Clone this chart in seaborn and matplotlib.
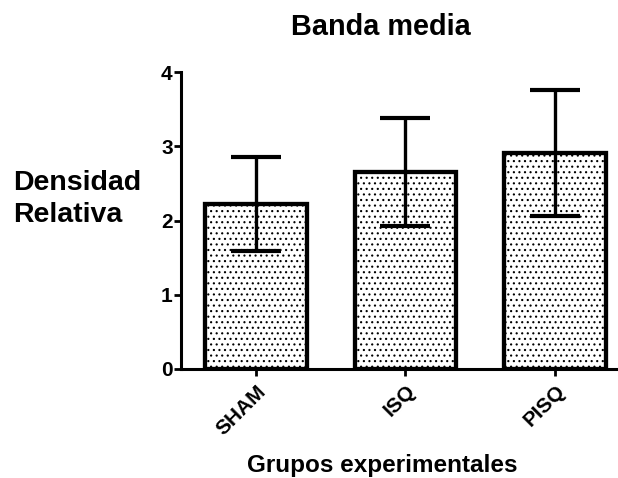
import matplotlib
matplotlib.use("Agg")
import matplotlib.pyplot as plt
import seaborn as sns
import pandas as pd

# Data
groups = ["SHAM", "ISQ", "PISQ"]
means = [2.22, 2.65, 2.91]
errors = [0.63, 0.73, 0.85]

title = "Banda media"
xlabel = "Grupos experimentales"
ylabel_lines = ["Densidad", "Relativa"]
yticks = [0, 1, 2, 3, 4]

sns.set_style("ticks")
plt.rcParams['font.family'] = ['Liberation Sans', 'DejaVu Sans']
plt.rcParams['hatch.linewidth'] = 0.8
plt.rcParams['hatch.color'] = 'black'
plt.rcParams['text.color'] = 'black'
plt.rcParams['axes.labelcolor'] = 'black'
plt.rcParams['xtick.color'] = 'black'
plt.rcParams['ytick.color'] = 'black'
plt.rcParams['xtick.labelcolor'] = 'black'
plt.rcParams['ytick.labelcolor'] = 'black'

df = pd.DataFrame({"group": groups, "value": means})

W, H, DPI = 618, 478, 100
fig = plt.figure(figsize=(W / DPI, H / DPI), dpi=DPI)
ax = fig.add_axes([181 / W, 1 - 369 / H, (W - 181) / W, (369 - 72) / H])

sns.barplot(data=df, x="group", y="value", order=groups, errorbar=None,
            color="white", edgecolor="black", linewidth=3.1, width=0.68,
            hatch="...", ax=ax, zorder=2)

ax.errorbar(range(len(groups)), means, yerr=errors, fmt="none",
            ecolor="black", elinewidth=2.4, capsize=18, capthick=3.0, zorder=3)

ax.set_xlim(-0.5, 2.42)
ax.set_ylim(0, 4)
ax.set_yticks(yticks)
ax.set_xlabel("")
ax.set_ylabel("")

for side in ["top", "right"]:
    ax.spines[side].set_visible(False)
for side in ["left", "bottom"]:
    ax.spines[side].set_linewidth(2.2)
    ax.spines[side].set_color("black")

ax.tick_params(axis="y", length=5, width=2.0, pad=1, labelsize=15,
               colors="black", labelcolor="black")
ax.tick_params(axis="x", length=5, width=2.0, pad=4, labelsize=15,
               colors="black", labelcolor="black")
for lab in ax.get_yticklabels():
    lab.set_fontweight("bold")
for lab in ax.get_xticklabels():
    lab.set_fontweight("bold")
    lab.set_rotation(45)
    lab.set_ha("right")
    lab.set_rotation_mode("anchor")

fig.text(381 / W, 1 - 35 / H, title, ha="center", va="baseline",
         fontsize=20.8, fontweight="bold", color="black")
fig.text(382 / W, 1 - 472 / H, xlabel, ha="center", va="baseline",
         fontsize=17.5, fontweight="bold", color="black")
fig.text(13 / W, 1 - 190 / H, ylabel_lines[0], ha="left", va="baseline",
         fontsize=20.5, fontweight="bold", color="black")
fig.text(13 / W, 1 - 222 / H, ylabel_lines[1], ha="left", va="baseline",
         fontsize=20.5, fontweight="bold", color="black")

fig.savefig("out.png", dpi=DPI)
